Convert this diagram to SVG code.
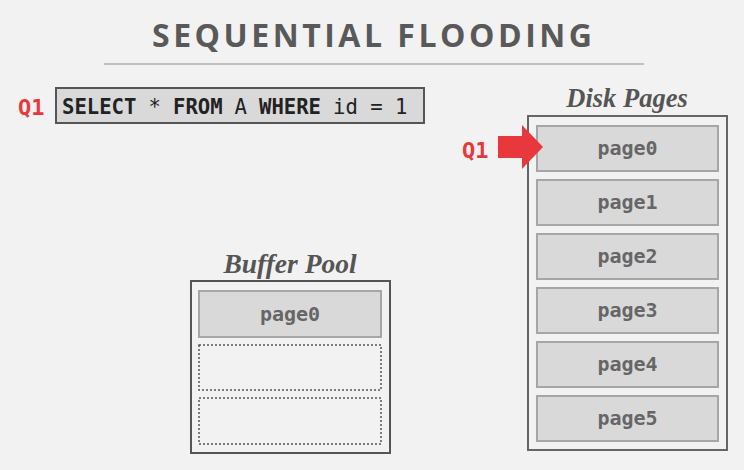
<svg xmlns="http://www.w3.org/2000/svg" width="744" height="470" viewBox="0 0 744 470">
<defs>
<style>
.mono{font-family:"DejaVu Sans Mono","Liberation Mono",monospace;font-size:20.6px;fill:#222;}
.b{font-weight:bold;}
.pg{fill:#d9d9d9;stroke:#a6a6a6;stroke-width:2;}
.pgt{font-family:"DejaVu Sans Mono","Liberation Mono",monospace;font-weight:bold;font-size:20px;fill:#666;text-anchor:middle;}
.hdr{font-family:"Liberation Serif","Times New Roman",serif;font-style:italic;font-weight:bold;fill:#555;text-anchor:middle;}
.q{font-family:"DejaVu Sans Mono","Liberation Mono",monospace;font-weight:bold;font-size:22px;fill:#e8383d;}
.slot{fill:none;stroke:#555;stroke-width:1.5;stroke-dasharray:2 2;}
</style>
</defs>
<rect width="744" height="470" fill="#f2f2f2"/>
<g id="title">
<text x="372" y="47" text-anchor="middle" font-family="'Open Sans','Noto Sans',sans-serif" font-weight="bold" font-size="32" fill="#595959" textLength="440" lengthAdjust="spacing">SEQUENTIAL FLOODING</text>
<line x1="104" y1="64" x2="644" y2="64" stroke="#c0c0c0" stroke-width="2"/>
</g>
<g id="query">
<text class="q" x="18" y="115">Q1</text>
<rect x="56" y="88" width="368" height="35" fill="#d9d9d9" stroke="#555" stroke-width="2"/>
<text class="mono b" x="62" y="114">SELECT</text>
<text class="mono" x="148.5" y="114">*</text>
<text class="mono b" x="173" y="114">FROM</text>
<text class="mono" x="234.5" y="114">A</text>
<text class="mono b" x="259" y="114">WHERE</text>
<text class="mono" x="333" y="114">id = 1</text>
</g>
<g id="disk-pages">
<text class="hdr" x="627" y="107" font-size="26.5">Disk Pages</text>
<rect x="528" y="116" width="199" height="334" fill="none" stroke="#666" stroke-width="2"/>
<g id="disk-page0"><rect class="pg" x="537" y="126" width="181" height="45"/><text class="pgt" x="627.5" y="155">page0</text></g>
<g id="disk-page1"><rect class="pg" x="537" y="180" width="181" height="45"/><text class="pgt" x="627.5" y="209">page1</text></g>
<g id="disk-page2"><rect class="pg" x="537" y="234" width="181" height="45"/><text class="pgt" x="627.5" y="263">page2</text></g>
<g id="disk-page3"><rect class="pg" x="537" y="288" width="181" height="45"/><text class="pgt" x="627.5" y="317">page3</text></g>
<g id="disk-page4"><rect class="pg" x="537" y="342" width="181" height="45"/><text class="pgt" x="627.5" y="371">page4</text></g>
<g id="disk-page5"><rect class="pg" x="537" y="396" width="181" height="45"/><text class="pgt" x="627.5" y="425">page5</text></g>
</g>
<g id="buffer-pool">
<text class="hdr" x="290" y="273" font-size="27.5">Buffer Pool</text>
<rect x="191" y="281" width="199" height="172" fill="none" stroke="#555" stroke-width="2"/>
<g id="bp-page0"><rect class="pg" x="199" y="291" width="182" height="46"/><text class="pgt" x="290" y="321">page0</text></g>
<rect id="bp-slot1" class="slot" x="199" y="345" width="182" height="45"/>
<rect id="bp-slot2" class="slot" x="199" y="398" width="182" height="46"/>
</g>
<g id="connectors">
<text class="q" x="462" y="158">Q1</text>
<polygon points="498,136 522,136 522,125 543,147 522,169 522,158 498,158" fill="#e8383d"/>
</g>
</svg>
